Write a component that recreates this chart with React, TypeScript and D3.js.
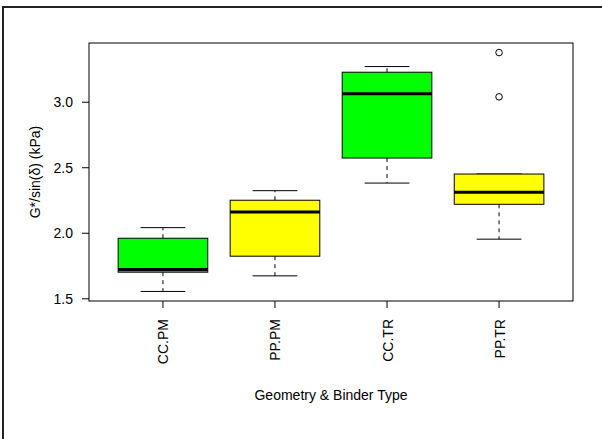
import React from "react";
import * as d3 from "d3";

// Box statistics for G*/sin(δ) by geometry and binder type
const categories = ["CC.PM", "PP.PM", "CC.TR", "PP.TR"];
const lowerWhisker = [1.556, 1.675, 2.383, 1.955];
const q1 = [1.703, 1.825, 2.574, 2.221];
const median = [1.723, 2.163, 3.064, 2.313];
const q3 = [1.962, 2.252, 3.229, 2.452];
const upperWhisker = [2.043, 2.325, 3.272, 2.452];
const outliers: number[][] = [[], [], [], [3.379, 3.041]];
const fills = ["#00FF00", "#FFFF00", "#00FF00", "#FFFF00"];
const yTicks = [1.5, 2.0, 2.5, 3.0];

const W = 602;
const H = 439;
const plot = { left: 89, right: 573, top: 43, bottom: 301 };
const font = "'Liberation Sans', Arial, Helvetica, sans-serif";

export default function App() {
  const allVals = [...lowerWhisker, ...upperWhisker, ...outliers.flat()];
  const lo = d3.min(allVals)!;
  const hi = d3.max(allVals)!;
  const pad = (hi - lo) * 0.04;
  const y = d3.scaleLinear().domain([lo - pad, hi + pad]).range([plot.bottom, plot.top]);
  const n = categories.length;
  const xPad = n * 0.04;
  const x = d3
    .scaleLinear()
    .domain([0.5 - xPad, n + 0.5 + xPad])
    .range([plot.left, plot.right]);
  const unit = x(1) - x(0);
  const boxHalf = unit * 0.4;
  const capHalf = unit * 0.2;

  return (
    <svg
      width={W}
      height={H}
      style={{ position: "absolute", left: 0, top: 0, background: "#fff" }}
      fontFamily={font}
    >
      {/* outer frame */}
      <line x1={3} y1={7} x2={3} y2={H} stroke="#222" strokeWidth={2} />
      <line x1={2} y1={7} x2={W} y2={7} stroke="#222" strokeWidth={2} />

      {categories.map((c, i) => {
        const cx = x(i + 1);
        return (
          <g key={c}>
            {/* whiskers */}
            <line x1={cx} x2={cx} y1={y(q3[i])} y2={y(upperWhisker[i])} stroke="#000" strokeDasharray="4,4" />
            <line x1={cx} x2={cx} y1={y(q1[i])} y2={y(lowerWhisker[i])} stroke="#000" strokeDasharray="4,4" />
            <line x1={cx - capHalf} x2={cx + capHalf} y1={y(upperWhisker[i])} y2={y(upperWhisker[i])} stroke="#000" />
            <line x1={cx - capHalf} x2={cx + capHalf} y1={y(lowerWhisker[i])} y2={y(lowerWhisker[i])} stroke="#000" />
            {/* box */}
            <rect
              x={cx - boxHalf}
              y={y(q3[i])}
              width={boxHalf * 2}
              height={y(q1[i]) - y(q3[i])}
              fill={fills[i]}
              stroke="#000"
            />
            <line x1={cx - boxHalf} x2={cx + boxHalf} y1={y(median[i])} y2={y(median[i])} stroke="#000" strokeWidth={3} />
            {outliers[i].map((v, k) => (
              <circle key={k} cx={cx} cy={y(v)} r={3.3} fill="none" stroke="#000" />
            ))}
            {/* x tick and label */}
            <line x1={cx} x2={cx} y1={plot.bottom} y2={plot.bottom + 7} stroke="#000" />
            <text
              transform={`translate(${cx + 5.5},${319}) rotate(-90)`}
              textAnchor="end"
              fontSize={14}
              fill="#000"
            >
              {c}
            </text>
          </g>
        );
      })}

      {/* plot frame */}
      <rect
        x={plot.left}
        y={plot.top}
        width={plot.right - plot.left}
        height={plot.bottom - plot.top}
        fill="none"
        stroke="#000"
      />

      {/* y axis ticks */}
      {yTicks.map((t) => (
        <g key={t}>
          <line x1={plot.left - 7} x2={plot.left} y1={y(t)} y2={y(t)} stroke="#000" />
          <text x={73} y={y(t)} dy="0.35em" textAnchor="end" fontSize={14} fill="#000">
            {d3.format(".1f")(t)}
          </text>
        </g>
      ))}

      <text
        transform={`translate(40,${(plot.top + plot.bottom) / 2}) rotate(-90)`}
        textAnchor="middle"
        fontSize={14}
        fill="#000"
      >
        G*/sin(δ) (kPa)
      </text>
      <text x={(plot.left + plot.right) / 2} y={400} textAnchor="middle" fontSize={14} fill="#000">
        Geometry &amp; Binder Type
      </text>
    </svg>
  );
}
